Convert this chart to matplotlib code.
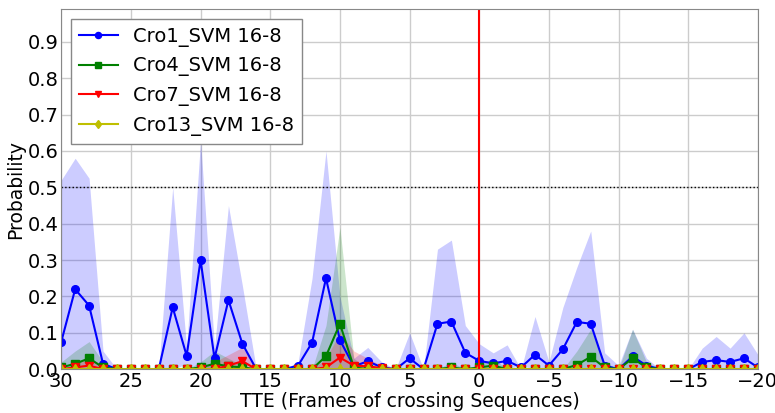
import matplotlib
matplotlib.use("Agg")
import matplotlib.pyplot as plt
import numpy as np

# time-to-event axis, one sample per frame (30 down to -20)
tte = list(range(30, -21, -1))

# mean probability per frame
cro1_mean = [0.075, 0.22, 0.175, 0.015, 0.0, 0.0, 0.0, 0.0, 0.17, 0.037,
             0.30, 0.03, 0.19, 0.07, 0.0, 0.0, 0.0, 0.01, 0.073, 0.25,
             0.08, 0.008, 0.022, 0.005, 0.0, 0.03, 0.0, 0.125, 0.131, 0.045,
             0.023, 0.016, 0.023, 0.005, 0.04, 0.01, 0.055, 0.13, 0.125, 0.01,
             0.0, 0.035, 0.01, 0.0, 0.0, 0.0, 0.02, 0.025, 0.02, 0.03,
             0.005]
cro4_mean = [0.005, 0.015, 0.03, 0.005, 0.0, 0.0, 0.0, 0.0, 0.0, 0.0,
             0.005, 0.015, 0.008, 0.005, 0.0, 0.0, 0.0, 0.0, 0.0, 0.036,
             0.125, 0.005, 0.0, 0.0, 0.0, 0.0, 0.0, 0.0, 0.005, 0.0,
             0.005, 0.01, 0.0, 0.0, 0.0, 0.0, 0.0, 0.012, 0.034, 0.005,
             0.0, 0.03, 0.005, 0.0, 0.0, 0.0, 0.0, 0.0, 0.0, 0.0,
             0.0]
cro7_mean = [0.0, 0.005, 0.01, 0.0, 0.0, 0.0, 0.0, 0.0, 0.0, 0.0,
             0.0, 0.0, 0.01, 0.022, 0.0, 0.0, 0.0, 0.0, 0.0, 0.005,
             0.032, 0.01, 0.008, 0.003, 0.0, 0.0, 0.0, 0.0, 0.0, 0.0,
             0.0, 0.0, 0.0, 0.0, 0.0, 0.0, 0.0, 0.0, 0.0, 0.0,
             0.0, 0.0, 0.0, 0.0, 0.0, 0.0, 0.0, 0.0, 0.0, 0.0,
             0.0]
cro13_mean = [0.0] * 51

# mean + one standard deviation per frame
cro1_upper = [0.52, 0.58, 0.525, 0.05, 0.0, 0.0, 0.0, 0.0, 0.50, 0.06,
              0.63, 0.06, 0.45, 0.23, 0.0, 0.0, 0.0, 0.02, 0.25, 0.60,
              0.20, 0.03, 0.06, 0.02, 0.0, 0.10, 0.0, 0.33, 0.355, 0.12,
              0.07, 0.045, 0.067, 0.0, 0.145, 0.02, 0.17, 0.28, 0.38, 0.045,
              0.01, 0.11, 0.03, 0.0, 0.0, 0.0, 0.058, 0.09, 0.058, 0.10,
              0.04]
cro4_upper = [0.02, 0.05, 0.076, 0.02, 0.0, 0.0, 0.0, 0.0, 0.0, 0.0,
              0.02, 0.05, 0.03, 0.01, 0.0, 0.0, 0.0, 0.0, 0.0, 0.12,
              0.39, 0.03, 0.0, 0.0, 0.0, 0.0, 0.0, 0.0, 0.02, 0.0,
              0.015, 0.03, 0.0, 0.0, 0.0, 0.0, 0.0, 0.05, 0.11, 0.02,
              0.0, 0.11, 0.02, 0.0, 0.0, 0.0, 0.0, 0.0, 0.0, 0.0,
              0.0]
cro7_upper = [0.0, 0.015, 0.03, 0.005, 0.0, 0.0, 0.0, 0.0, 0.0, 0.0,
              0.0, 0.02, 0.04, 0.06, 0.005, 0.0, 0.0, 0.0, 0.0, 0.03,
              0.10, 0.05, 0.03, 0.01, 0.0, 0.0, 0.0, 0.0, 0.0, 0.0,
              0.0, 0.0, 0.0, 0.0, 0.0, 0.0, 0.0, 0.0, 0.0, 0.0,
              0.0, 0.0, 0.0, 0.0, 0.0, 0.0, 0.0, 0.0, 0.0, 0.0,
              0.0]
cro13_upper = [0.0] * 51

series_labels = ["Cro1_SVM 16-8", "Cro4_SVM 16-8", "Cro7_SVM 16-8", "Cro13_SVM 16-8"]

SERIES = [
    (cro1_mean, cro1_upper, "b", "o"),
    (cro4_mean, cro4_upper, "g", "s"),
    (cro7_mean, cro7_upper, "r", "v"),
    (cro13_mean, cro13_upper, "y", "d"),
]

plt.rcParams["font.family"] = ["DejaVu Sans"]

fig = plt.figure(figsize=(7.75, 4.13), dpi=100)
ax = fig.add_subplot(111)
fig.subplots_adjust(left=0.079, right=0.978, top=0.978, bottom=0.106)

x = np.array(tte)
for (mean, upper, color, marker), label in zip(SERIES, series_labels):
    mean = np.array(mean)
    upper = np.array(upper)
    std = upper - mean
    lower = np.clip(mean - std, 0, None)
    ax.fill_between(x, lower, upper, color=color, alpha=0.2, linewidth=0)
    ax.plot(x, mean, color=color, marker=marker, markersize=5.5,
            linewidth=1.5, label=label)

# decision threshold and crossing moment
ax.axhline(0.5, color="black", linestyle=":", linewidth=1)
ax.axvline(0, color="red", linewidth=1.5)

ax.set_xlim(30, -20)
ax.set_ylim(0, 0.99)
ax.set_xticks(range(30, -21, -5))
ax.set_yticks(np.arange(0, 0.91, 0.1))
ax.set_yticklabels(["%.1f" % v for v in np.arange(0, 0.91, 0.1)])
ax.tick_params(labelsize=14, length=0, pad=2)
ax.grid(True, color="#cccccc", linewidth=1)
ax.set_axisbelow(True)
for sp in ax.spines.values():
    sp.set_color("#888888")

ax.set_xlabel("TTE (Frames of crossing Sequences)", fontsize=13.5, labelpad=1)
ax.set_ylabel("Probability", fontsize=13.5, labelpad=2)

leg = ax.legend(loc="upper left", fontsize=14, fancybox=False,
                framealpha=1, edgecolor="#888888", markerscale=0.8)
leg.get_frame().set_linewidth(1)

fig.savefig("out.png", dpi=100)
